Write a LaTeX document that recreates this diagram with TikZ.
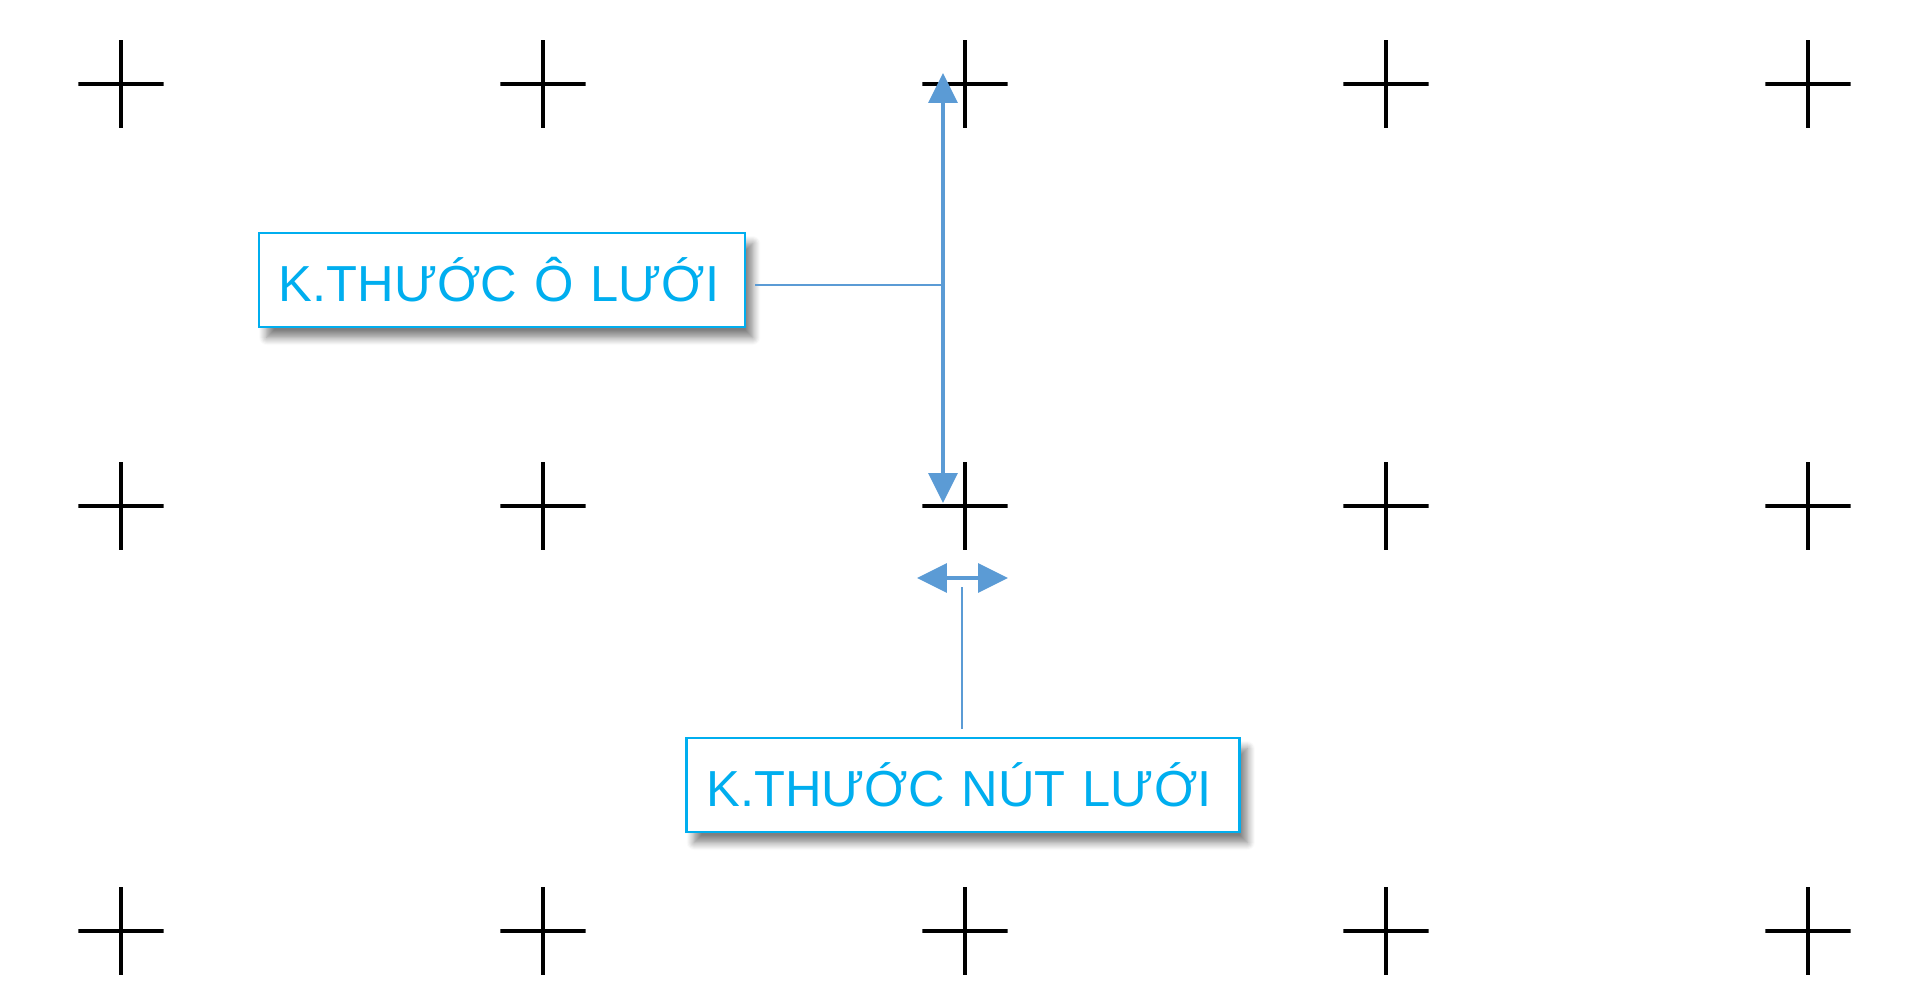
\documentclass[tikz,border=0pt]{standalone}
\usepackage{fontspec}
\setmainfont{Liberation Sans}
\usetikzlibrary{arrows.meta,shadows.blur}
\definecolor{tagcyan}{RGB}{0,174,239}
\definecolor{dimblue}{RGB}{91,155,213}

\begin{document}
\begin{tikzpicture}[x=0.01cm,y=-0.01cm]
        \tikzset{gridcross/.style = {minimum width=0.85cm,minimum height=0.87cm,inner sep=0,
                path picture={\draw[line width=1pt] (path picture bounding box.north) -- (path picture bounding box.south)
                (path picture bounding box.west) -- (path picture bounding box.east);}}}
        \tikzset{tag/.style = {draw=tagcyan,line width=0.7pt,fill=white,text=tagcyan,
                font=\fontsize{14.4}{16}\selectfont,minimum height=0.94cm,inner xsep=0.2cm,align=left,
                blur shadow={shadow xshift=2.2pt,shadow yshift=-3pt,shadow blur steps=8,shadow opacity=50}}}
        \tikzset{dim/.style = {{Triangle[length=8.5pt,width=8.2pt]}-{Triangle[length=8.5pt,width=8.2pt]},dimblue,line width=1pt}}
        \tikzset{lead/.style = {dimblue,line width=0.5pt}}
        \useasboundingbox (0,0) rectangle (1920,1005);
        % grid crosses
        \node[gridcross] (a1) at (121,84)  {};
        \node[gridcross] (a2) at (543,84)  {};
        \node[gridcross] (a3) at (965,84)  {};
        \node[gridcross] (a4) at (1386,84) {};
        \node[gridcross] (a5) at (1808,84) {};
        \node[gridcross] (b1) at (121,506)  {};
        \node[gridcross] (b2) at (543,506)  {};
        \node[gridcross] (b3) at (965,506)  {};
        \node[gridcross] (b4) at (1386,506) {};
        \node[gridcross] (b5) at (1808,506) {};
        \node[gridcross] (c1) at (121,931)  {};
        \node[gridcross] (c2) at (543,931)  {};
        \node[gridcross] (c3) at (965,931)  {};
        \node[gridcross] (c4) at (1386,931) {};
        \node[gridcross] (c5) at (1808,931) {};
        % labels
        \node[tag,text width=4.46cm] (cell) at (502,280) {K.THƯỚC Ô LƯỚI};
        \node[tag,text width=5.13cm] (knot) at (963,785) {K.THƯỚC NÚT LƯỚI};
        % dimension arrows
        \coordinate (up)   at (943,73);
        \coordinate (down) at (943,503);
        \coordinate (mid)  at (943,285);
        \coordinate (kl)   at (917,578);
        \coordinate (kr)   at (1008,578);
        \coordinate (km)   at (962,587);
        \draw[dim] (down) -- (up);
        \draw[dim] (kl) -- (kr);
        %leaders
        \draw[lead,shorten <=2.5pt] (cell.east |- mid) -- (mid);
        \draw[lead,shorten <=2.3pt] (knot.north -| km) -- (km);
\end{tikzpicture}
\end{document}
